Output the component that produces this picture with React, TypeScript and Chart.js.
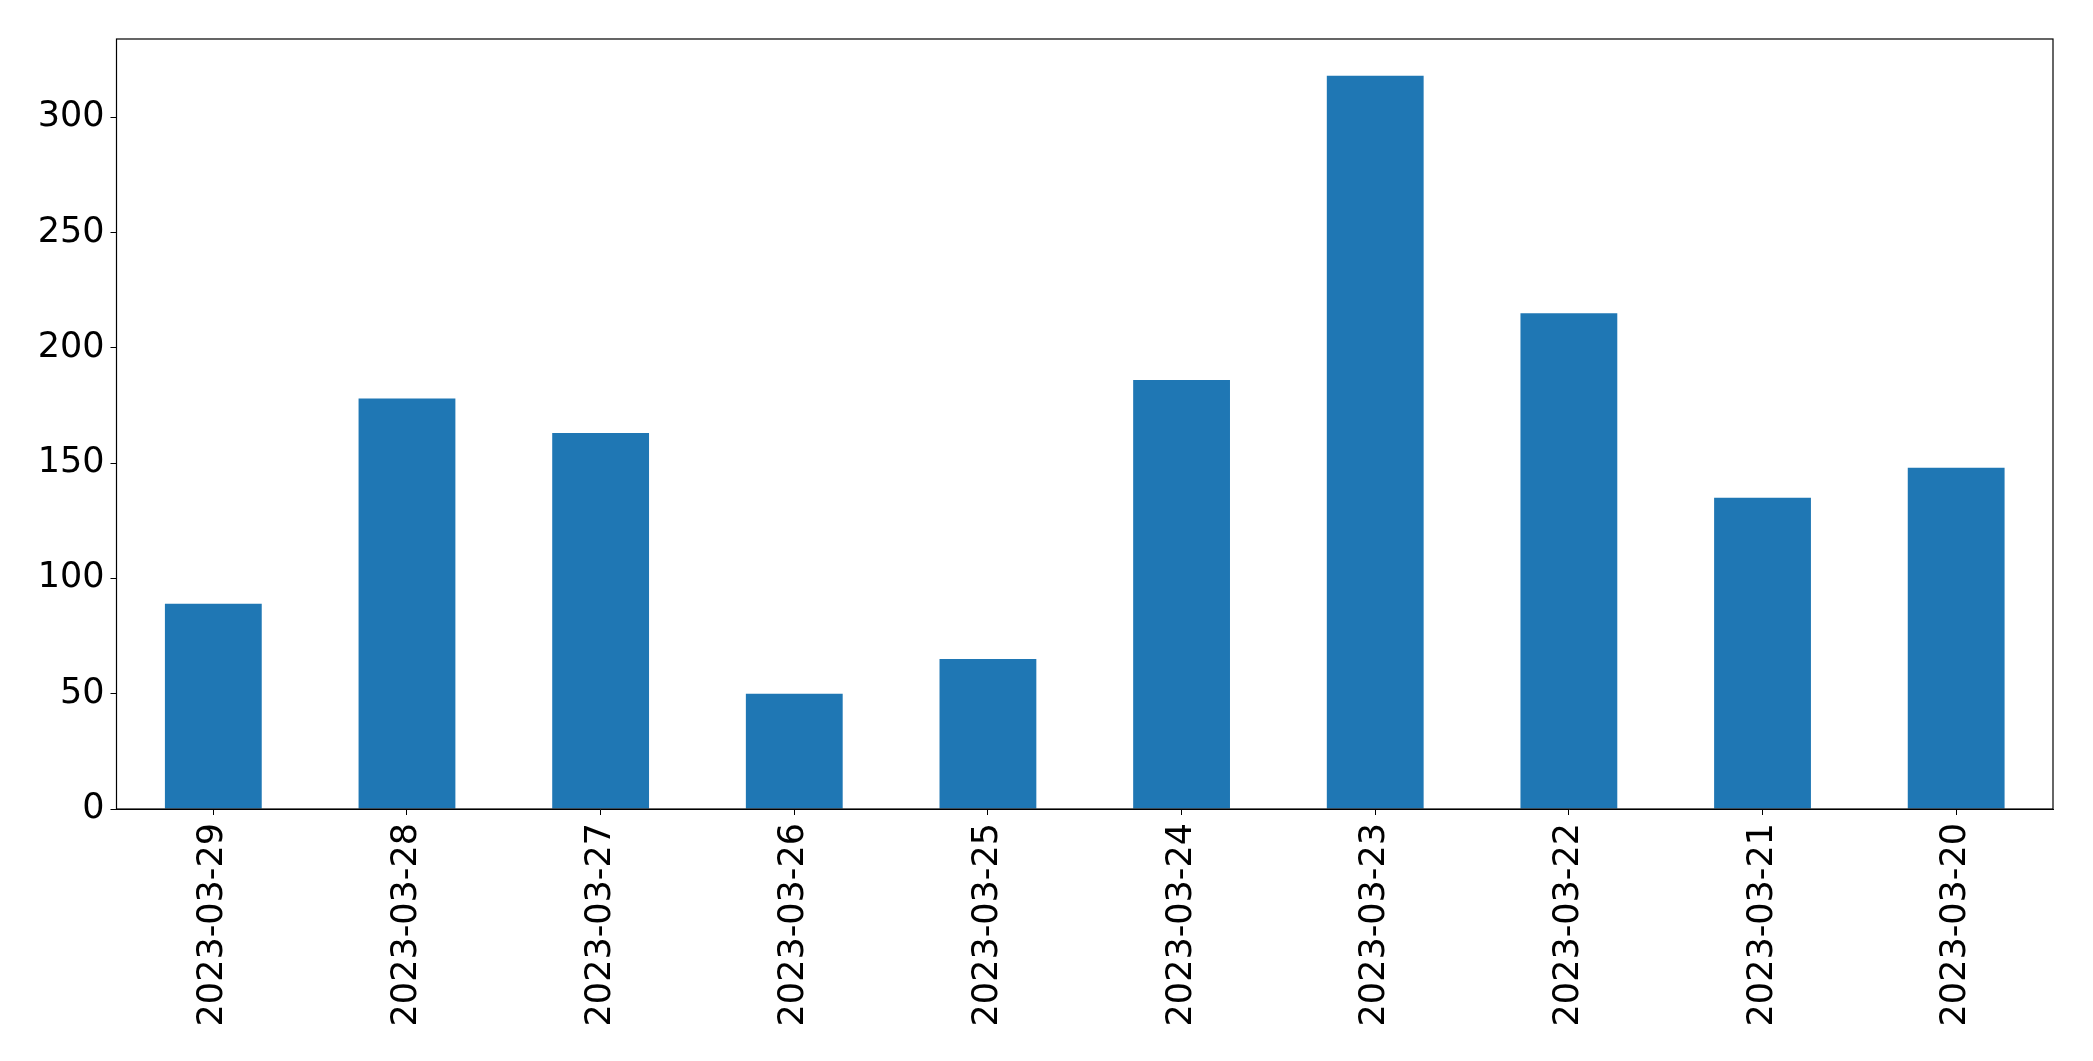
import React, { useEffect, useRef } from "react";
import { Chart, registerables } from "chart.js";

Chart.register(...registerables);

const categories = [
  "2023-03-29",
  "2023-03-28",
  "2023-03-27",
  "2023-03-26",
  "2023-03-25",
  "2023-03-24",
  "2023-03-23",
  "2023-03-22",
  "2023-03-21",
  "2023-03-20",
];
const values = [89, 178, 163, 50, 65, 186, 318, 215, 135, 148];
const yTicks = [0, 50, 100, 150, 200, 250, 300];

const frame = {
  id: "frame",
  afterDatasetsDraw(chart: any) {
    const { ctx, chartArea } = chart;
    ctx.save();
    ctx.strokeStyle = "#000";
    ctx.lineWidth = 1.2;
    ctx.strokeRect(chartArea.left, chartArea.top, chartArea.right - chartArea.left, chartArea.bottom - chartArea.top);
    ctx.restore();
  },
};

export default function App() {
  const ref = useRef<HTMLCanvasElement | null>(null);
  useEffect(() => {
    document.body.style.margin = "0";
    const font = { family: "DejaVu Sans", size: 35 };
    const chart = new Chart(ref.current as HTMLCanvasElement, {
      type: "bar",
      data: {
        labels: categories,
        datasets: [
          {
            data: values,
            backgroundColor: "#1f77b4",
            barPercentage: 0.5,
            categoryPercentage: 1,
          },
        ],
      },
      options: {
        animation: false,
        responsive: false,
        maintainAspectRatio: false,
        layout: { padding: { top: 39, right: 40, left: 0, bottom: 0 } },
        plugins: { legend: { display: false }, tooltip: { enabled: false } },
        scales: {
          x: {
            offset: true,
            grid: { display: true, offset: false, drawOnChartArea: false, tickLength: 6, color: "#000", tickColor: "#000" },
            border: { display: true, color: "#000", width: 1 },
            ticks: { color: "#000", font, minRotation: 90, maxRotation: 90, padding: 8, autoSkip: false },
            afterFit(scale: any) {
              scale.height = 252;
            },
          },
          y: {
            min: 0,
            max: 333.9,
            afterBuildTicks(scale: any) {
              scale.ticks = yTicks.map((v) => ({ value: v }));
            },
            grid: { display: true, drawOnChartArea: false, tickLength: 6, color: "#000", tickColor: "#000" },
            border: { display: true, color: "#000", width: 1 },
            ticks: { color: "#000", font, padding: 6 },
            afterFit(scale: any) {
              scale.width = 116.5;
            },
          },
        },
      },
      plugins: [frame],
    });
    return () => chart.destroy();
  }, []);
  return (
    <div style={{ position: "absolute", left: 0, top: 0, width: 2093, height: 1061, background: "#fff" }}>
      <canvas ref={ref} width={2093} height={1061} style={{ width: 2093, height: 1061 }} />
    </div>
  );
}
